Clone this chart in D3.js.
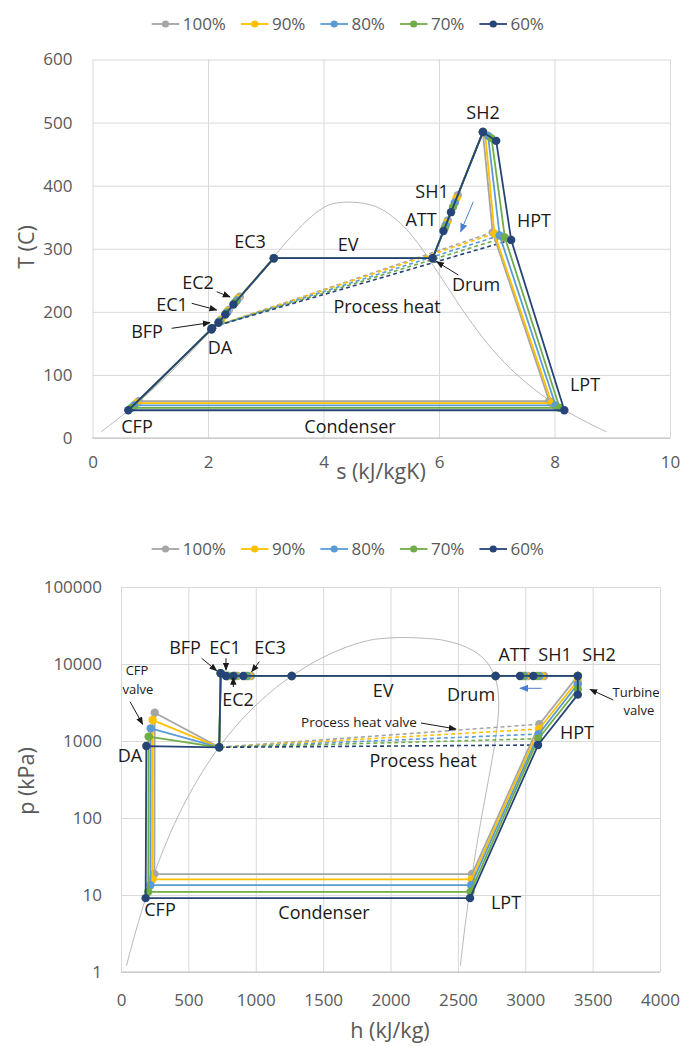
<!DOCTYPE html>
<html>
<head>
<meta charset="utf-8">
<script src="https://cdn.jsdelivr.net/npm/d3@7/dist/d3.min.js"></script>
<style>
  html, body { margin: 0; padding: 0; background: #fff; }
  svg text { font-family: "Open Sans", "Noto Sans", sans-serif; }
</style>
</head>
<body>
<svg id="chart" width="686" height="1046"></svg>
<script>
// ---------------- load cases ----------------
const loads = ["100%", "90%", "80%", "70%", "60%"];
const loadColors = ["#A5A5A5", "#FFC000", "#5B9BD5", "#70AD47", "#264478"];

// ---------------- T-s diagram states (s kJ/kgK, T °C) ----------------
// CFP, DA, BFP, EC1, EC2, EC3, sat. liquid, Drum, SH1, ATT, SH2, turbine valve, HPT, LPT
const ts_s_100 = [0.80, 2.06, 2.07, 2.23, 2.36, 2.55, 3.14, 5.89, 6.325, 6.151, 6.76, 6.76, 6.93, 7.91];
const ts_T_100 = [58.5, 172.5, 174, 188, 203, 224, 285, 285, 385, 345, 485, 485, 326, 58.5];
const ts_s_90  = [0.76, 2.06, 2.07, 2.22, 2.34, 2.52, 3.14, 5.89, 6.303, 6.134, 6.76, 6.80, 6.96, 7.95];
const ts_T_90  = [55.3, 172.5, 174, 187, 201, 221, 285, 285, 380, 341, 485, 482, 324, 55.3];
const ts_s_80  = [0.72, 2.06, 2.07, 2.20, 2.33, 2.50, 3.14, 5.89, 6.273, 6.116, 6.76, 6.85, 7.05, 8.02];
const ts_T_80  = [51.6, 172.5, 174, 185, 199, 218, 285, 285, 373, 337, 485, 479, 321, 51.6];
const ts_s_70  = [0.67, 2.06, 2.07, 2.19, 2.31, 2.47, 3.14, 5.89, 6.242, 6.099, 6.76, 6.91, 7.14, 8.09];
const ts_T_70  = [47.7, 172.5, 174, 184, 197, 215, 285, 285, 366, 333, 485, 475, 318, 47.7];
const ts_s_60  = [0.62, 2.06, 2.07, 2.18, 2.30, 2.44, 3.14, 5.89, 6.208, 6.077, 6.76, 6.99, 7.25, 8.17];
const ts_T_60  = [44.0, 172.5, 174, 182.6, 195.8, 211.6, 285, 285, 358, 328, 485, 471, 314, 44.0];
const tsHptIndex = 12;
const tsReturnS = 2.15, tsReturnT = 178;   // process heat return

// ---------------- p-h diagram states (h kJ/kg, p kPa) ----------------
// CFP, CFP valve, DA, BFP, EC1, EC2, EC3, sat. liquid, Drum, SH1, ATT, SH2, turbine valve, HPT, LPT
const ph_h_100 = [248, 250, 729, 740, 800, 865, 965, 1267, 2780, 3140, 3020, 3390, 3390, 3105, 2605];
const ph_p_100 = [18.7, 2330, 828, 7600, 7000, 7000, 7000, 7000, 7000, 7000, 7000, 7000, 7000, 1650, 18.7];
const ph_h_90  = [233, 235, 729, 740, 795, 855, 950, 1267, 2780, 3125, 3005, 3390, 3390, 3102, 2602];
const ph_p_90  = [16.0, 1870, 828, 7600, 7000, 7000, 7000, 7000, 7000, 7000, 7000, 7000, 6100, 1430, 16.0];
const ph_h_80  = [218, 220, 729, 740, 790, 848, 937, 1267, 2780, 3105, 2995, 3390, 3390, 3100, 2598];
const ph_p_80  = [13.4, 1460, 828, 7600, 7000, 7000, 7000, 7000, 7000, 7000, 7000, 7000, 5500, 1230, 13.4];
const ph_h_70  = [202, 205, 729, 740, 785, 841, 922, 1267, 2780, 3085, 2980, 3390, 3390, 3097, 2594];
const ph_p_70  = [11.0, 1140, 828, 7600, 7000, 7000, 7000, 7000, 7000, 7000, 7000, 7000, 4700, 1070, 11.0];
const ph_h_60  = [183, 188, 729, 740, 779, 834, 908, 1267, 2780, 3060, 2961, 3390, 3390, 3095, 2590];
const ph_p_60  = [9.1, 860, 828, 7600, 7000, 7000, 7000, 7000, 7000, 7000, 7000, 7000, 4000, 887, 9.1];
const phHptIndex = 13, phDaIndex = 2;

// ---------------- saturation dome ----------------
const satT  = [10, 20, 40, 60, 80, 100, 120, 140, 160, 180, 200, 220, 240, 260, 280, 300, 320, 340, 360, 370, 373.95];
const satSf = [0.151, 0.2965, 0.5724, 0.8313, 1.0753, 1.3069, 1.5278, 1.7391, 1.9427, 2.1396, 2.3308, 2.5178, 2.7020, 2.8850, 3.0688, 3.2559, 3.4480, 3.6594, 3.9147, 4.1106, 4.407];
const satSg = [8.899, 8.666, 8.256, 7.908, 7.611, 7.354, 7.129, 6.929, 6.749, 6.585, 6.431, 6.284, 6.141, 5.997, 5.853, 5.705, 5.539, 5.336, 5.053, 4.800, 4.407];
const satP  = [1.2, 2, 5, 10, 20, 50, 100, 200, 500, 1000, 2000, 3000, 5000, 7000, 10000, 12000, 15000, 18000, 20000, 21000, 22064];
const satHf = [40.7, 73.4, 137.7, 191.8, 251.4, 340.5, 417.4, 504.7, 640.1, 762.5, 908.5, 1008.3, 1154.5, 1267.7, 1408.1, 1491.5, 1610.2, 1732.0, 1827.2, 1889.6, 2084.3];
const satHg = [2518.7, 2532.9, 2560.7, 2583.9, 2608.9, 2645.2, 2674.9, 2706.2, 2748.1, 2777.1, 2798.3, 2803.2, 2794.2, 2772.6, 2725.5, 2685.4, 2610.7, 2509.5, 2411.4, 2337.5, 2084.3];

// ---------------- axis ticks ----------------
const sTicks = [0, 2, 4, 6, 8, 10];
const TTicks = [0, 100, 200, 300, 400, 500, 600];
const hTicks = [0, 500, 1000, 1500, 2000, 2500, 3000, 3500, 4000];
const pTicks = [1, 10, 100, 1000, 10000, 100000];

// =================================================================
const svg = d3.select("#chart");
const defs = svg.append("defs");
function arrowMarker(id, color, size) {
  defs.append("marker").attr("id", id)
    .attr("viewBox", "0 0 10 10").attr("refX", 9).attr("refY", 5)
    .attr("markerWidth", size).attr("markerHeight", size)
    .attr("markerUnits", "userSpaceOnUse").attr("orient", "auto")
    .append("path").attr("d", "M0,1 L10,5 L0,9 Z").attr("fill", color);
}
arrowMarker("arrK", "#1a1a1a", 8);
arrowMarker("arrB", "#4a7fd0", 9);

const GRID = "#d9d9d9", AXIS = "#bfbfbf", TICK = "#595959", INK = "#1a1a1a";

function label(g, x, y, str, size = 18, fill = INK, anchor = "middle") {
  return g.append("text").attr("x", x).attr("y", y).attr("dy", "0.35em")
    .attr("text-anchor", anchor).style("font-size", size + "px")
    .attr("fill", fill).text(str);
}
function arrow(g, x1, y1, x2, y2, marker = "arrK", color = INK, w = 1) {
  g.append("line").attr("x1", x1).attr("y1", y1).attr("x2", x2).attr("y2", y2)
    .attr("stroke", color).attr("stroke-width", w).attr("marker-end", `url(#${marker})`);
}
function legend(y) {
  const g = svg.append("g");
  let x = 151.7;
  loads.forEach((name, i) => {
    g.append("line").attr("x1", x).attr("x2", x + 27.6).attr("y1", y).attr("y2", y)
      .attr("stroke", loadColors[i]).attr("stroke-width", 1.8);
    g.append("circle").attr("cx", x + 13.8).attr("cy", y).attr("r", 3.6).attr("fill", loadColors[i]);
    const t = label(g, x + 31, y, name, 17, TICK, "start");
    x += 31 + t.node().getComputedTextLength() + 15;
  });
}
function frame(xsc, ysc, xTicks, yTicks, yFmt, xPad, yPad) {
  const [x0, x1] = xsc.range(), [y0, y1] = ysc.range();
  const gy = svg.append("g").attr("transform", `translate(${x0},0)`)
    .call(d3.axisLeft(ysc).tickValues(yTicks).tickFormat(yFmt).tickSize(-(x1 - x0)).tickPadding(yPad));
  const gx = svg.append("g").attr("transform", `translate(0,${y0})`)
    .call(d3.axisBottom(xsc).tickValues(xTicks).tickFormat(d3.format("d")).tickSize(-(y0 - y1)).tickPadding(xPad));
  [gx, gy].forEach(g => {
    g.select(".domain").remove();
    g.selectAll(".tick line").attr("stroke", GRID).attr("stroke-width", 1);
    g.selectAll(".tick text").attr("fill", TICK).style("font-size", "17px")
      .style("font-family", "'Open Sans','Noto Sans',sans-serif");
  });
  svg.append("line").attr("x1", x0).attr("x2", x1).attr("y1", y0).attr("y2", y0)
    .attr("stroke", AXIS).attr("stroke-width", 1.2);
}
function dome(g, xsc, ysc, liqX, vapX, yv) {
  const pts = liqX.map((v, i) => [xsc(v), ysc(yv[i])])
    .concat(vapX.map((v, i) => [xsc(v), ysc(yv[i])]).reverse().slice(1));
  g.append("path").attr("d", d3.line().curve(d3.curveCatmullRom)(pts))
    .attr("fill", "none").attr("stroke", "#b8b8b8").attr("stroke-width", 1);
}
function series(g, xsc, ysc, xv, yv, color) {
  const pts = xv.map((v, i) => [xsc(v), ysc(yv[i])]);
  g.append("path").attr("d", d3.line()(pts.concat([pts[0]])))
    .attr("fill", "none").attr("stroke", color).attr("stroke-width", 1.8)
    .attr("stroke-linejoin", "round");
  g.selectAll(null).data(pts).join("circle")
    .attr("cx", d => d[0]).attr("cy", d => d[1]).attr("r", 4.2).attr("fill", color);
}
function dashed(g, xsc, ysc, xa, ya, xb, yb, color) {
  g.append("line").attr("x1", xsc(xa)).attr("y1", ysc(ya)).attr("x2", xsc(xb)).attr("y2", ysc(yb))
    .attr("stroke", color).attr("stroke-width", 1.6).attr("stroke-dasharray", "4,3");
}

// ======================= T-s diagram =======================
const sx = d3.scaleLinear().domain([0, 10]).range([92.5, 670]);
const Ty = d3.scaleLinear().domain([0, 600]).range([438, 59.5]);
legend(24);
frame(sx, Ty, sTicks, TTicks, d3.format("d"), 18, 20);

const gTs = svg.append("g");
dome(gTs, sx, Ty, satSf, satSg, satT);
const tsS = [ts_s_100, ts_s_90, ts_s_80, ts_s_70, ts_s_60];
const tsT = [ts_T_100, ts_T_90, ts_T_80, ts_T_70, ts_T_60];
tsS.forEach((s, i) => dashed(gTs, sx, Ty, s[tsHptIndex], tsT[i][tsHptIndex], tsReturnS, tsReturnT, loadColors[i]));
tsS.forEach((s, i) => series(gTs, sx, Ty, s, tsT[i], loadColors[i]));

label(svg, 381, 471, "s (kJ/kgK)", 21.5, TICK);
label(svg, 0, 0, "T (C)", 21.5, TICK).attr("transform", "translate(26,247) rotate(-90)");

const lTs = svg.append("g");
label(lTs, 483, 113, "SH2");
label(lTs, 432, 192, "SH1");
label(lTs, 421, 220, "ATT");
label(lTs, 534, 221, "HPT");
label(lTs, 476, 285, "Drum");
label(lTs, 348, 245, "EV");
label(lTs, 387, 307, "Process heat");
label(lTs, 250, 242, "EC3");
label(lTs, 198, 283, "EC2");
label(lTs, 172, 305, "EC1");
label(lTs, 147, 332, "BFP");
label(lTs, 220, 348, "DA");
label(lTs, 137, 427, "CFP");
label(lTs, 350, 427, "Condenser");
label(lTs, 585, 385, "LPT");
arrow(lTs, 216.7, 291.7, 230, 297);
arrow(lTs, 191.7, 303.3, 216.7, 310);
arrow(lTs, 171.7, 328.3, 210, 322.7);
arrow(lTs, 458.3, 275, 436.7, 261.7);
arrow(lTs, 473.3, 201.7, 460.7, 231.7, "arrB", "#4a7fd0", 1);

// ======================= p-h diagram =======================
const hx = d3.scaleLinear().domain([0, 4000]).range([121, 660]);
const py = d3.scaleLog().domain([1, 100000]).range([972, 587]);
legend(549);
frame(hx, py, hTicks, pTicks, d3.format("d"), 22, 19);

const gPh = svg.append("g");
dome(gPh, hx, py, satHf, satHg, satP);
const phH = [ph_h_100, ph_h_90, ph_h_80, ph_h_70, ph_h_60];
const phP = [ph_p_100, ph_p_90, ph_p_80, ph_p_70, ph_p_60];
phH.forEach((h, i) => dashed(gPh, hx, py, h[phHptIndex], phP[i][phHptIndex], h[phDaIndex], phP[i][phDaIndex], loadColors[i]));
phH.forEach((h, i) => series(gPh, hx, py, h, phP[i], loadColors[i]));

label(svg, 390, 1030, "h (kJ/kg)", 21.5, TICK);
label(svg, 0, 0, "p (kPa)", 21.5, TICK).attr("transform", "translate(26,781) rotate(-90)");

const lPh = svg.append("g");
label(lPh, 185, 648, "BFP");
label(lPh, 225, 648, "EC1");
label(lPh, 270, 648, "EC3");
label(lPh, 238, 700, "EC2");
label(lPh, 137, 670, "CFP", 13);
label(lPh, 138, 689, "valve", 13);
label(lPh, 130, 756, "DA");
label(lPh, 514, 655, "ATT");
label(lPh, 555, 655, "SH1");
label(lPh, 599, 655, "SH2");
label(lPh, 471, 695, "Drum");
label(lPh, 383, 691, "EV");
label(lPh, 636, 692, "Turbine", 13);
label(lPh, 639, 710, "valve", 13);
label(lPh, 577, 733, "HPT");
label(lPh, 423, 761, "Process heat");
label(lPh, 359, 722, "Process heat valve", 13.5);
label(lPh, 160, 910, "CFP");
label(lPh, 324, 913, "Condenser");
label(lPh, 506, 903, "LPT");
arrow(lPh, 201.7, 658.3, 216.7, 670.7);
arrow(lPh, 226, 658.3, 226, 670);
arrow(lPh, 259.3, 661.7, 251.7, 671.7);
arrow(lPh, 233.3, 687, 233.3, 677.5);
arrow(lPh, 130, 701.7, 142.7, 724.3);
arrow(lPh, 613.3, 700, 590, 689.3);
arrow(lPh, 421, 723, 456, 729);
arrow(lPh, 541.7, 688.3, 520, 688.3, "arrB", "#4a7fd0", 1);
</script>
</body>
</html>
